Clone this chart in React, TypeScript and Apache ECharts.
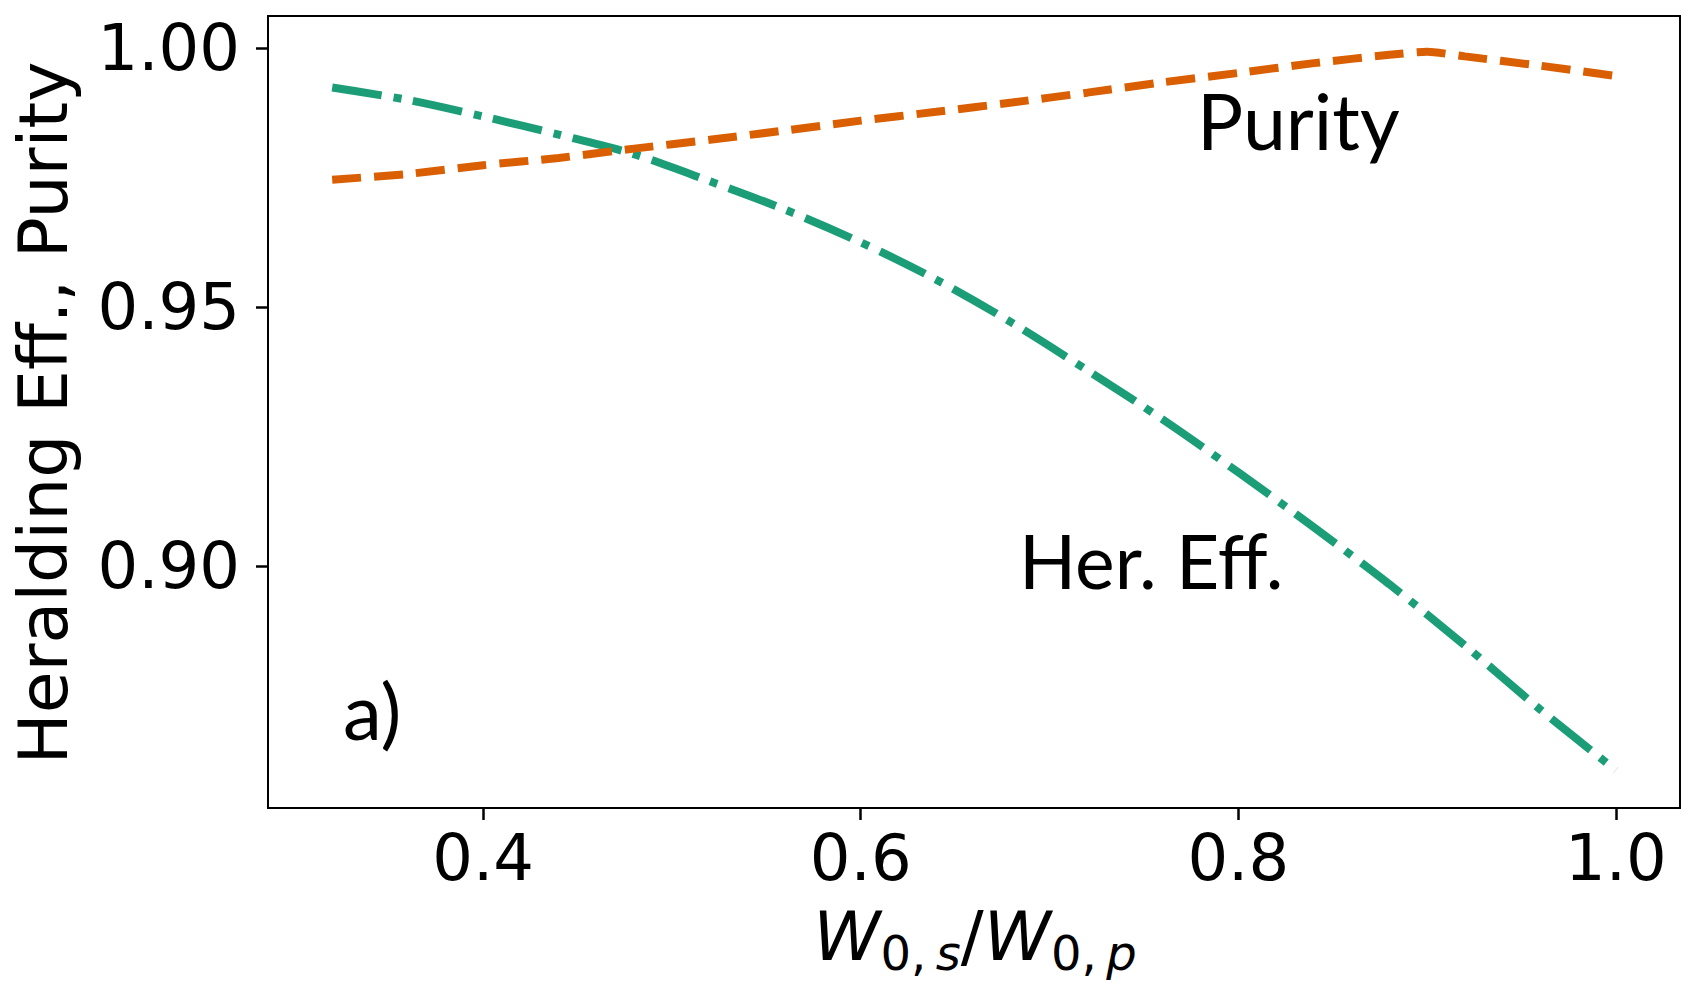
import React, { useEffect, useRef } from "react";
import * as echarts from "echarts";

const herX = [0.32, 0.36, 0.4, 0.44, 0.48, 0.52, 0.56, 0.6, 0.64, 0.68, 0.72, 0.76, 0.8, 0.84, 0.88, 0.92, 0.96, 1.0];
const herEff = [0.9924, 0.99, 0.9868, 0.9833, 0.9795, 0.9743, 0.9688, 0.9625, 0.9553, 0.947, 0.9378, 0.9283, 0.9181, 0.9075, 0.8965, 0.8847, 0.8723, 0.8606];

const purX = [0.32, 0.36, 0.4, 0.44, 0.48, 0.52, 0.56, 0.6, 0.64, 0.68, 0.72, 0.76, 0.8, 0.84, 0.88, 0.9, 0.92, 0.96, 1.0];
const purity = [0.9746, 0.9757, 0.9774, 0.9788, 0.9806, 0.9823, 0.9841, 0.986, 0.9877, 0.9895, 0.9914, 0.9934, 0.9952, 0.9971, 0.9987, 0.9993, 0.9984, 0.9966, 0.9946];

const xTicks = [0.4, 0.6, 0.8, 1.0];
const yTicks = [0.9, 0.95, 1.0];

const GREEN = "#1b9e77";
const ORANGE = "#d95f02";

export default function App() {
  const ref = useRef<HTMLDivElement>(null);
  useEffect(() => {
    if (!ref.current) return;
    const chart = echarts.init(ref.current, null, { renderer: "svg" });
    const tickFont = { fontFamily: "DejaVu Sans", fontSize: 64, color: "#000" };
    chart.setOption({
      animation: false,
      backgroundColor: "#fff",
      grid: {
        left: 268,
        top: 16,
        width: 1412,
        height: 792,
        show: true,
        borderColor: "#000",
        borderWidth: 2,
        backgroundColor: "transparent",
      },
      xAxis: {
        type: "value",
        min: 0.286,
        max: 1.034,
        axisLine: { show: true, onZero: false, lineStyle: { color: "#000", width: 2 } },
        axisTick: { show: true, length: 12, lineStyle: { color: "#000", width: 2.5 }, customValues: xTicks },
        axisLabel: { ...tickFont, margin: 18, customValues: xTicks, formatter: (v: number) => v.toFixed(1) },
        splitLine: { show: false },
      },
      yAxis: {
        type: "value",
        min: 0.8533,
        max: 1.0062,
        axisLine: { show: true, onZero: false, lineStyle: { color: "#000", width: 2 } },
        axisTick: { show: true, length: 12, lineStyle: { color: "#000", width: 2.5 }, customValues: yTicks },
        axisLabel: { ...tickFont, margin: 28, customValues: yTicks, formatter: (v: number) => v.toFixed(2) },
        splitLine: { show: false },
      },
      series: [
        {
          name: "Her. Eff.",
          type: "line",
          showSymbol: false,
          smooth: 0.3,
          data: herX.map((x, i) => [x, herEff[i]]),
          lineStyle: { color: GREEN, width: 8, type: [50, 12, 8, 12], cap: "butt" },
        },
        {
          name: "Purity",
          type: "line",
          showSymbol: false,
          smooth: 0.2,
          data: purX.map((x, i) => [x, purity[i]]),
          lineStyle: { color: ORANGE, width: 8, type: [29, 13], cap: "butt" },
        },
      ],
      graphic: [
        {
          type: "text",
          x: 43,
          y: 413,
          rotation: Math.PI / 2,
          style: {
            text: "Heralding Eff., Purity",
            fontFamily: "DejaVu Sans",
            fontSize: 68,
            fill: "#000",
            align: "center",
            verticalAlign: "middle",
          },
        },
        {
          type: "text",
          x: 975,
          y: 943,
          style: {
            text: "{wi|W}{su|0,}{si|\u2009s}{w|/}{wi|W}{su|0,}{si|\u2009p}",
            align: "center",
            verticalAlign: "middle",
            fill: "#000",
            rich: {
              wi: { fontFamily: "DejaVu Sans", fontStyle: "italic", fontSize: 68, lineHeight: 68, verticalAlign: "bottom", padding: [0, 0, 7, 0] },
              w: { fontFamily: "DejaVu Sans", fontSize: 68, lineHeight: 68, verticalAlign: "bottom", padding: [0, 0, 7, 0] },
              su: { fontFamily: "DejaVu Sans", fontSize: 48, lineHeight: 48, verticalAlign: "bottom" },
              si: { fontFamily: "DejaVu Sans", fontStyle: "italic", fontSize: 48, lineHeight: 48, verticalAlign: "bottom" },
            },
          },
        },
        {
          type: "text",
          x: 1197,
          y: 120,
          style: { text: "Purity", fontFamily: "Lato", fontSize: 77, fill: "#000", align: "left", verticalAlign: "middle" },
        },
        {
          type: "text",
          x: 1019,
          y: 560,
          style: { text: "Her. Eff.", fontFamily: "Lato", fontSize: 75, fill: "#000", align: "left", verticalAlign: "middle" },
        },
        {
          type: "text",
          x: 343,
          y: 710,
          style: { text: "a)", fontFamily: "Lato", fontSize: 78, fill: "#000", align: "left", verticalAlign: "middle" },
        },
      ],
    });
    return () => chart.dispose();
  }, []);
  return <div ref={ref} style={{ position: "absolute", left: 0, top: 0, width: 1690, height: 988 }} />;
}
